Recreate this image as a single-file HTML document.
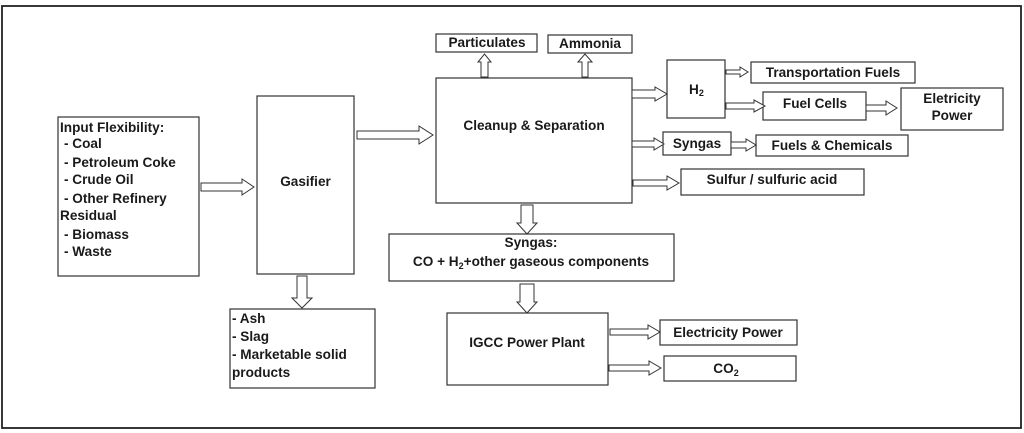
<!DOCTYPE html>
<html><head><meta charset="utf-8"><style>
html,body{margin:0;padding:0;background:#fff;}
svg{display:block;}
text{font-family:"Liberation Sans",Arial,sans-serif;font-weight:bold;font-size:13.6px;fill:#1a1a1a;}
</style></head><body>
<svg width="1024" height="433" viewBox="0 0 1024 433" xmlns="http://www.w3.org/2000/svg">
<rect x="2" y="6" width="1019" height="422" fill="#fff" stroke="#222" stroke-width="1.8"/>
<g fill="#fff" stroke="#333" stroke-width="1.2">
<rect x="58" y="117" width="141" height="159"/>
<rect x="257" y="96" width="97" height="178"/>
<rect x="436" y="78" width="196" height="125"/>
<rect x="436" y="34" width="101" height="18"/>
<rect x="548" y="35" width="84" height="18"/>
<rect x="230" y="309" width="145" height="79"/>
<rect x="389" y="234" width="285" height="47"/>
<rect x="447" y="313" width="161" height="72"/>
<rect x="660" y="320" width="137" height="25"/>
<rect x="664" y="356" width="132" height="25"/>
<rect x="667" y="60" width="58" height="58"/>
<rect x="751" y="62" width="164" height="21"/>
<rect x="763" y="92" width="103" height="28"/>
<rect x="901" y="88" width="102" height="42"/>
<rect x="663" y="132" width="68" height="23"/>
<rect x="756" y="135" width="152" height="21"/>
<rect x="681" y="169" width="183" height="26"/>
</g>
<g fill="#fff" stroke="#333" stroke-width="1">
<polygon points="201,183 242,183 242,179 254,187 242,195 242,191 201,191"/>
<polygon points="357,131 419,131 419,126 433,135 419,144 419,139 357,139"/>
<polygon points="632,90 655,90 655,87 667,94 655,101 655,98 632,98"/>
<polygon points="726,70 740,70 740,67 748,72 740,77 740,74 726,74"/>
<polygon points="726,103 754,103 754,100 765,106 754,112 754,109 726,109"/>
<polygon points="866,105 886,105 886,101 897,108 886,115 886,111 866,111"/>
<polygon points="632,141 654,141 654,138 664,144 654,150 654,147 632,147"/>
<polygon points="731,142 746,142 746,139 756,145 746,151 746,148 731,148"/>
<polygon points="633,180 667,180 667,176 679,183 667,190 667,186 633,186"/>
<polygon points="610,329 648,329 648,325 660,332 648,339 648,335 610,335"/>
<polygon points="609,365 649,365 649,361 661,368 649,375 649,371 609,371"/>
<polygon points="481,77 481,62 478,62 484.5,54 491,62 488,62 488,77"/>
<polygon points="582,77 582,62 578,62 585,54 592,62 588,62 588,77"/>
<polygon points="297,276 297,298 292,298 302,308 312,298 307,298 307,276"/>
<polygon points="521,205 521,223 517,223 527,234 537,223 533,223 533,205"/>
<polygon points="520,284 520,302 517,302 527,313 537,302 534,302 534,284"/>
</g>
<text x="60" y="132">Input Flexibility:</text>
<text x="64" y="148">- Coal</text>
<text x="64" y="167">- Petroleum Coke</text>
<text x="64" y="184">- Crude Oil</text>
<text x="64" y="203">- Other Refinery</text>
<text x="60" y="220">Residual</text>
<text x="64" y="239">- Biomass</text>
<text x="64" y="256">- Waste</text>
<text x="305.5" y="186" text-anchor="middle">Gasifier</text>
<text x="534" y="130" text-anchor="middle">Cleanup &amp; Separation</text>
<text x="487" y="47" text-anchor="middle">Particulates</text>
<text x="590" y="48" text-anchor="middle">Ammonia</text>
<text x="232" y="323">- Ash</text>
<text x="232" y="341">- Slag</text>
<text x="232" y="359">- Marketable solid</text>
<text x="232" y="377">products</text>
<text x="531" y="247" text-anchor="middle">Syngas:</text>
<text x="531" y="266" text-anchor="middle">CO + H<tspan font-size="9" dy="3">2</tspan><tspan dy="-3">+other gaseous components</tspan></text>
<text x="527" y="347" text-anchor="middle">IGCC Power Plant</text>
<text x="728" y="337" text-anchor="middle">Electricity Power</text>
<text x="726" y="373" text-anchor="middle">CO<tspan font-size="9" dy="3">2</tspan></text>
<text x="689" y="94">H<tspan font-size="9" dy="2">2</tspan></text>
<text x="833" y="77" text-anchor="middle">Transportation Fuels</text>
<text x="815" y="108" text-anchor="middle">Fuel Cells</text>
<text x="952" y="103" text-anchor="middle">Eletricity</text>
<text x="952" y="120" text-anchor="middle">Power</text>
<text x="697" y="148" text-anchor="middle">Syngas</text>
<text x="832" y="150" text-anchor="middle">Fuels &amp; Chemicals</text>
<text x="772" y="184" text-anchor="middle">Sulfur / sulfuric acid</text>
</svg>
</body></html>
